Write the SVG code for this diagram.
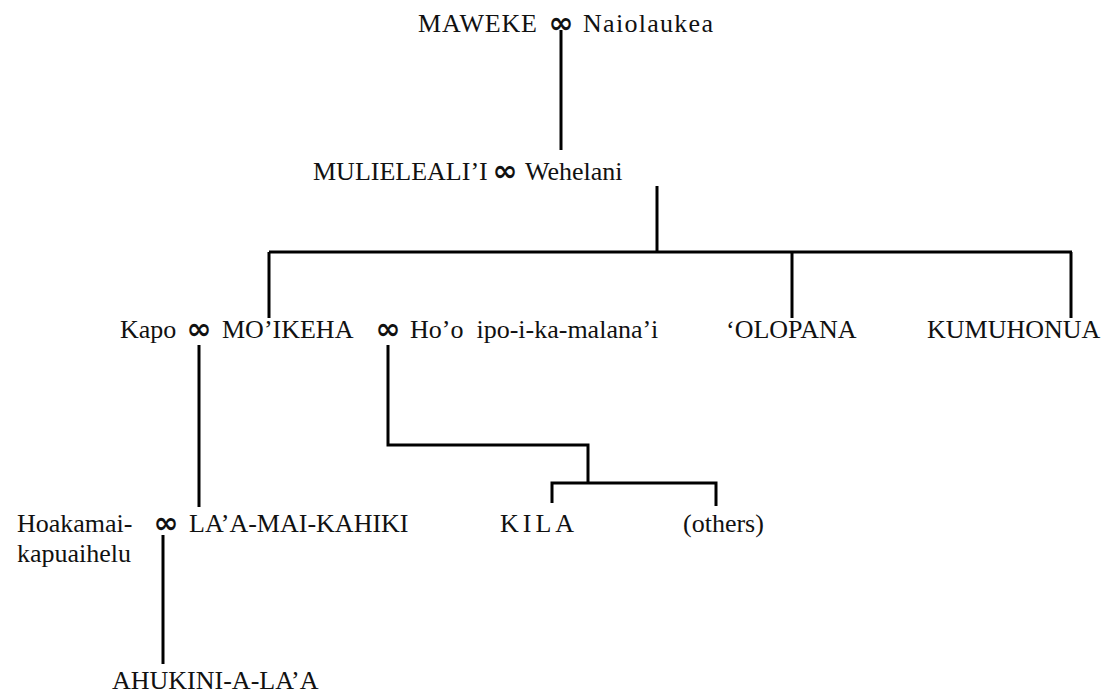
<svg xmlns="http://www.w3.org/2000/svg" width="1103" height="695" viewBox="0 0 1103 695">
<style>
.t{font-size:26px;fill:#111}
.inf{font-family:'DejaVu Sans',sans-serif;font-weight:bold;font-size:30px;text-anchor:middle;fill:#111}
.ln{stroke:#000;stroke-width:3;fill:none}
</style>
<rect width="1103" height="695" fill="#fff"/>
<g id="connectors">
<path class="ln" d="M561 30V150"/>
<path class="ln" d="M657 186V252"/>
<path class="ln" d="M269 252H1072"/>
<path class="ln" d="M269 252V318"/>
<path class="ln" d="M792 252V318"/>
<path class="ln" d="M1071 252V318"/>
<path class="ln" d="M199 345V507"/>
<path class="ln" d="M388 345V445H588V483"/>
<path class="ln" d="M552 503V483H716V506"/>
<path class="ln" d="M163 535V664"/>
</g>
<g font-family="Liberation Serif, Times New Roman, DejaVu Serif, serif">
<g id="maweke"><text class="t" x="418" y="32" textLength="119">MAWEKE</text><text class="inf" x="561" y="33">∞</text><text class="t" x="583" y="32" textLength="130">Naiolaukea</text></g>
<g id="mulieleali"><text class="t" x="313" y="180">MULIELEALI’I</text><text class="inf" x="505" y="181">∞</text><text class="t" x="525" y="180">Wehelani</text></g>
<g id="kapo"><text class="t" x="120" y="338">Kapo</text><text class="inf" x="199" y="339">∞</text></g>
<g id="moikeha"><text class="t" x="222" y="338">MO’IKEHA</text><text class="inf" x="388" y="339">∞</text></g>
<g id="hooipo"><text class="t" x="410" y="338" xml:space="preserve">Ho’o  ipo-i-ka-malana’i</text></g>
<g id="olopana"><text class="t" x="726" y="338">‘OLOPANA</text></g>
<g id="kumuhonua"><text class="t" x="927" y="338">KUMUHONUA</text></g>
<g id="hoakamai"><text class="t" x="17" y="532">Hoakamai-</text><text class="t" x="17" y="562">kapuaihelu</text><text class="inf" x="166" y="533">∞</text></g>
<g id="laamaikahiki"><text class="t" x="189" y="532">LA’A-MAI-KAHIKI</text></g>
<g id="kila"><text class="t" x="500" y="532" letter-spacing="4">KILA</text></g>
<g id="others"><text class="t" x="683" y="532">(others)</text></g>
<g id="ahukini"><text class="t" x="112" y="689">AHUKINI-A-LA’A</text></g>
</g>
</svg>
